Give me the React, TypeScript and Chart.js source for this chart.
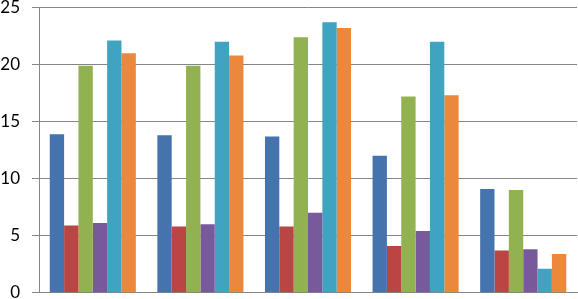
import React, { useEffect, useRef } from "react";
import { Chart, registerables } from "chart.js";

Chart.register(...registerables);

const categories = ["1", "2", "3", "4", "5"];
const series1 = [13.9, 13.8, 13.7, 12.0, 9.1];
const series2 = [5.9, 5.8, 5.8, 4.1, 3.7];
const series3 = [19.9, 19.9, 22.4, 17.2, 9.0];
const series4 = [6.1, 6.0, 7.0, 5.4, 3.8];
const series5 = [22.1, 22.0, 23.7, 22.0, 2.1];
const series6 = [21.0, 20.8, 23.2, 17.3, 3.4];
const seriesNames = ["Series1", "Series2", "Series3", "Series4", "Series5", "Series6"];
const colors = ["#4573AD", "#BA4643", "#92B150", "#785A9C", "#40A3BF", "#EC883C"];
const yTicks = [0, 5, 10, 15, 20, 25];

export default function App() {
  const ref = useRef<HTMLCanvasElement | null>(null);
  useEffect(() => {
    if (!ref.current) return;
    const all = [series1, series2, series3, series4, series5, series6];
    const chart = new Chart(ref.current, {
      type: "bar",
      data: {
        labels: categories,
        datasets: all.map((d, i) => ({
          label: seriesNames[i],
          data: d,
          backgroundColor: colors[i],
          borderWidth: 0,
          categoryPercentage: 0.8,
          barPercentage: 1.0,
        })),
      },
      options: {
        animation: false,
        responsive: false,
        maintainAspectRatio: false,
        layout: { padding: { top: 0, right: 1, bottom: 0, left: 0 } },
        plugins: { legend: { display: false }, tooltip: { enabled: false } },
        scales: {
          x: {
            grid: { display: false, drawTicks: false },
            border: { display: true, color: "#868686", width: 1 },
            ticks: { display: false },
            afterFit: (s: any) => {
              s.height = 0;
              s.paddingLeft = 0;
              s.paddingRight = 0;
            },
          },
          y: {
            min: yTicks[0],
            max: yTicks[yTicks.length - 1],
            afterBuildTicks: (scale: any) => {
              scale.ticks = yTicks.map((v) => ({ value: v }));
            },
            afterFit: (s: any) => {
              s.width = 39;
              s.paddingTop = 7.5;
              s.paddingBottom = 6.3;
            },
            grid: { color: "#868686", tickLength: 7, lineWidth: 1 },
            border: { display: true, color: "#868686", width: 1 },
            ticks: {
              padding: 12,
              color: "#000",
              font: { family: "Lato", size: 17, lineHeight: 0.9 },
            },
          },
        },
      },
    });
    return () => chart.destroy();
  }, []);
  return (
    <div style={{ position: "fixed", left: 0, top: 0, width: 578, height: 299, background: "#fff" }}>
      <canvas ref={ref} width={578} height={299} style={{ width: 578, height: 299 }} />
    </div>
  );
}
